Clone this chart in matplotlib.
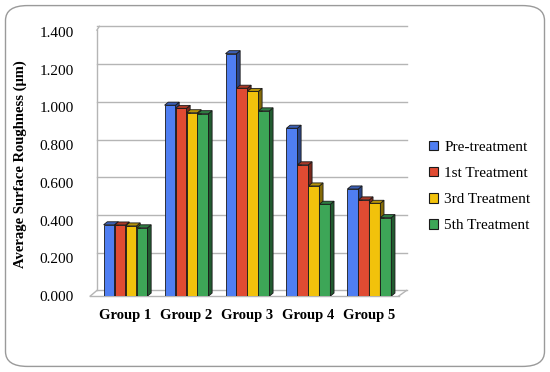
import matplotlib.pyplot as plt
import numpy as np
from matplotlib.patches import Polygon, FancyBboxPatch
from matplotlib.colors import to_rgb

# Data
groups = ['Group 1', 'Group 2', 'Group 3', 'Group 4', 'Group 5']
series = ['Pre-treatment', '1st Treatment', '3rd Treatment', '5th Treatment']
pre = [0.378, 1.012, 1.285, 0.890, 0.568]
t1 = [0.377, 0.995, 1.102, 0.696, 0.510]
t3 = [0.372, 0.972, 1.085, 0.584, 0.492]
t5 = [0.362, 0.967, 0.982, 0.487, 0.416]
yticks = [0.0, 0.2, 0.4, 0.6, 0.8, 1.0, 1.2, 1.4]
colors = ['#4F7EF2', '#E04B32', '#F2C20C', '#3DA657']

plt.rcParams['font.family'] = 'Liberation Serif'

fig = plt.figure(figsize=(5.5, 3.72), dpi=100)
ax = fig.add_axes([0.164, 0.204, 0.563, 0.710])

# rounded frame round the whole figure
fig.patches.append(FancyBboxPatch((0.01, 0.015), 0.98, 0.97,
                                  boxstyle='round,pad=0,rounding_size=0.04',
                                  transform=fig.transFigure, fill=False,
                                  edgecolor='#9a9a9a', linewidth=1.0))

xmin, xmax = -0.58, 4.5
ax.set_xlim(xmin, xmax)
ax.set_ylim(0, 1.4)

# back wall (shifted up/right for the 3D look)
wdx, wdy = 0.11, 0.03
gc = '#b5b5b5'
for t in yticks:
    ax.plot([xmin + wdx, xmax + wdx], [t + wdy, t + wdy], color=gc,
            linewidth=1.0, clip_on=False, zorder=0)
ax.plot([xmin + wdx, xmin + wdx], [wdy, 1.4 + wdy - 0.02], color=gc,
        linewidth=1.0, clip_on=False, zorder=0)
ax.plot([xmin + wdx, xmin + wdx + 0.04], [1.4 + wdy - 0.02, 1.4 + wdy],
        color=gc, linewidth=1.0, clip_on=False, zorder=0)
ax.plot([xmin, xmin + wdx], [0, wdy], color=gc, linewidth=1.0,
        clip_on=False, zorder=0)
ax.plot([xmin, xmax - 0.02], [0, 0], color=gc, linewidth=1.0,
        clip_on=False, zorder=0)
ax.plot([xmax - 0.02, xmax + wdx], [0, wdy], color=gc, linewidth=1.0,
        clip_on=False, zorder=0)

# bars with side and top faces
x = np.arange(len(groups))
w = 0.18
ddx, ddy = 0.06, 0.016
for i, (vals, c) in enumerate(zip([pre, t1, t3, t5], colors)):
    xs = x + (i - 1.5) * w
    base = np.array(to_rgb(c))
    side = base * 0.55
    top = base * 0.75
    ax.bar(xs, vals, width=w, color=c, edgecolor='#1a1a1a', linewidth=0.6,
           zorder=3 + i, label=series[i])
    for xc, v in zip(xs, vals):
        r = xc + w / 2
        l = xc - w / 2
        ax.add_patch(Polygon([(r, 0), (r + ddx, ddy), (r + ddx, v + ddy), (r, v)],
                             closed=True, facecolor=side, edgecolor='#1a1a1a',
                             linewidth=0.6, zorder=3 + i))
        ax.add_patch(Polygon([(l, v), (l + ddx, v + ddy), (r + ddx, v + ddy), (r, v)],
                             closed=True, facecolor=top, edgecolor='#1a1a1a',
                             linewidth=0.6, zorder=3 + i))

for s in ax.spines.values():
    s.set_visible(False)
ax.set_yticks(yticks)
ax.set_yticklabels([f'{t:.3f}' for t in yticks], fontsize=11)
ax.set_xticks(x)
ax.set_xticklabels(groups, fontsize=10.5, fontweight='bold')
ax.tick_params(axis='both', length=0)
ax.tick_params(axis='y', pad=12)
ax.tick_params(axis='x', pad=9)
ax.set_ylabel('Average Surface Roughness (μm)', fontsize=10.5, fontweight='bold',
              labelpad=9)

leg = ax.legend(loc='center left', bbox_to_anchor=(1.05, 0.415), frameon=False,
                fontsize=11, handlelength=0.6, handleheight=0.6, handletextpad=0.4,
                labelspacing=0.85)
for h in leg.legend_handles:
    h.set_edgecolor('#1a1a1a')
    h.set_linewidth(0.8)

fig.savefig('out.png', dpi=100)
